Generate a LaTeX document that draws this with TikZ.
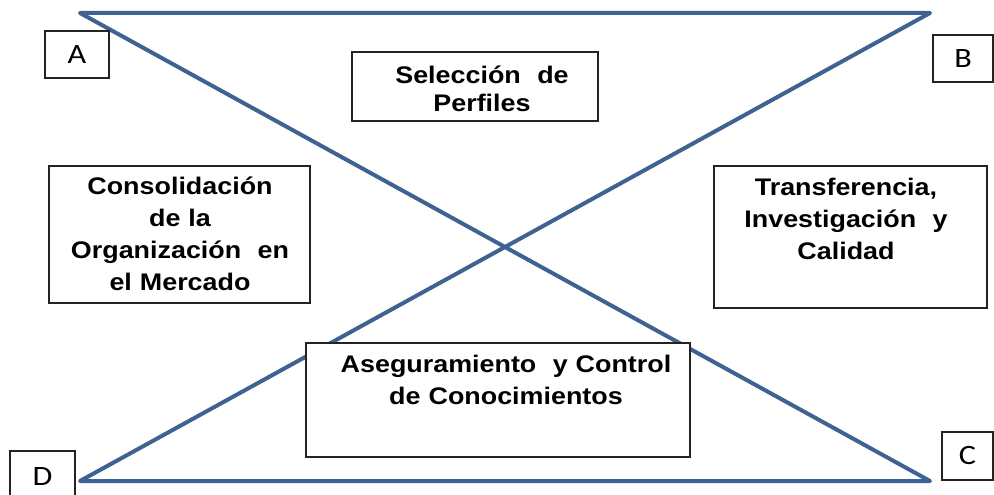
\documentclass[tikz,border=0pt]{standalone}
\usepackage{fontspec}
\setmainfont{Liberation Sans}
\newfontfamily\boxfont{Liberation Sans}[FakeStretch=1.12]
\newfontfamily\letterfont{Carlito}[FakeStretch=1.15]
\definecolor{tieblue}{RGB}{62,98,146}
\definecolor{boxline}{RGB}{35,35,35}
\begin{document}
\begin{tikzpicture}[x=1pt,y=-1pt,
  tie/.style={draw=tieblue, line width=4pt, line join=round},
  box/.style={draw=boxline, line width=1.6pt, fill=white, rectangle, inner sep=0pt},
  txt/.style={font=\boxfont\bfseries\fontsize{24}{32}\selectfont, align=center, anchor=base, inner sep=0pt, text width=#1},
  lettertxt/.style={font=\letterfont\fontsize{28}{30}\selectfont, inner sep=0pt}]
\useasboundingbox (0,0) rectangle (994,495);
\fill[white] (0,0) rectangle (994,495);
% hourglass
\coordinate (tl) at (80,13);
\coordinate (tr) at (930,13);
\coordinate (bl) at (80,481);
\coordinate (br) at (930,481);
\draw[tie] (tl) -- (tr) -- (bl) -- (br) -- cycle;
% corner letter boxes
\node[box, minimum width=64pt, minimum height=47pt] (A) at (77,54.5) {};
\node[lettertxt] (Alab) at (A.center) {A};
\node[box, minimum width=60pt, minimum height=47pt] (B) at (963,58.5) {};
\node[lettertxt] (Blab) at (B.center) {B};
\node[box, minimum width=51pt, minimum height=48pt] (C) at (967.5,456) {};
\node[lettertxt] (Clab) at (C.center) {C};
\node[box, minimum width=65pt, minimum height=52pt] (D) at (42.5,477) {};
\node[lettertxt] (Dlab) at (D.center) {D};
% content boxes
\node[box, minimum width=246pt, minimum height=69pt] (sel) at (475,86.5) {};
\node[txt=246pt, font=\boxfont\bfseries\fontsize{24}{28}\selectfont] (seltxt) at (482,84) {Selección\hspace{0.35em} de\\Perfiles};
\node[box, minimum width=261pt, minimum height=137pt] (con) at (179.5,234.5) {};
\node[txt=261pt] (contxt) at (180,194) {Consolidación\\de la\\Organización\hspace{0.35em} en\\el Mercado};
\node[box, minimum width=273pt, minimum height=142pt] (tra) at (850.5,237) {};
\node[txt=273pt] (tratxt) at (846,195) {Transferencia,\\Investigación\hspace{0.35em} y\\Calidad};
\node[box, minimum width=384pt, minimum height=114pt] (ase) at (498,400) {};
\node[txt=384pt] (asetxt) at (506,372) {Aseguramiento\hspace{0.35em} y Control\\de Conocimientos};
\end{tikzpicture}
\end{document}
